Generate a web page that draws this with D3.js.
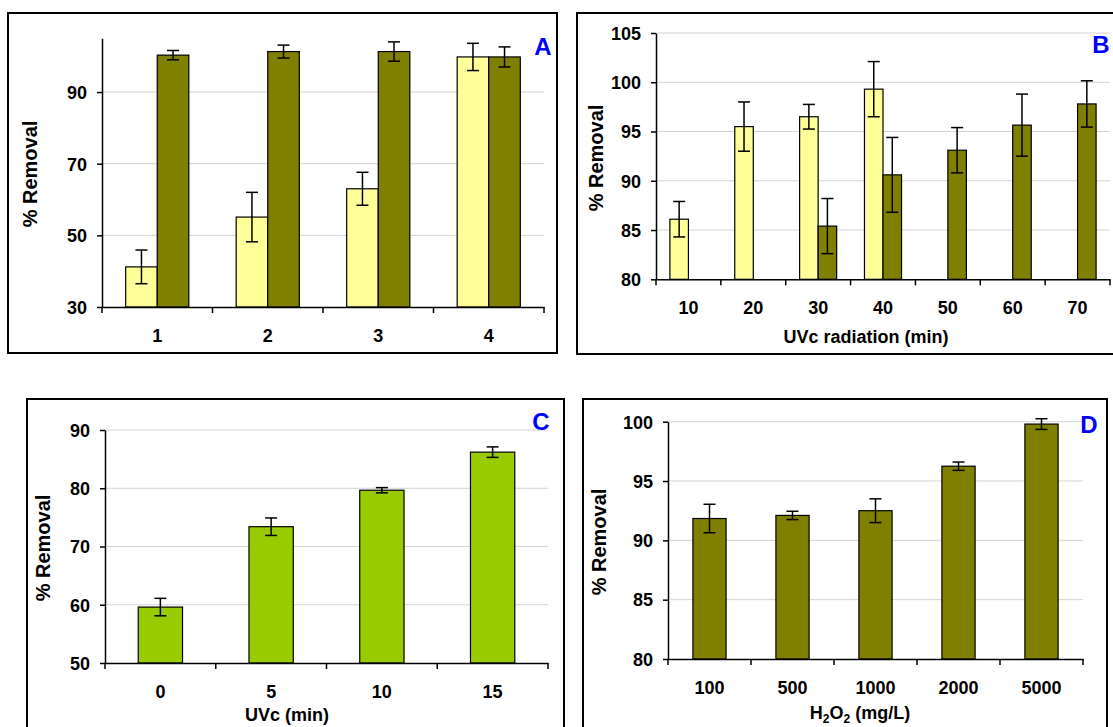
<!DOCTYPE html>
<html>
<head>
<meta charset="utf-8">
<script src="https://cdn.jsdelivr.net/npm/d3@7"></script>
<style>
  body { margin: 0; background: #fff; }
  svg { display: block; font-family: Arial, "Liberation Sans", sans-serif; }
  .tick-label { font-size: 18px; font-weight: bold; fill: #000; }
  .axis-title { font-size: 18px; font-weight: bold; fill: #000; }
  .y-title { font-size: 20px; }
  .panel-label { font-size: 24px; font-weight: bold; fill: #0000ff; }
</style>
</head>
<body>
<svg width="1113" height="727"></svg>
<script>
// Panel A
const aCats = ["1", "2", "3", "4"];
const aYellow = [41.2, 55.1, 63.0, 99.8];
const aYellowErr = [4.7, 6.9, 4.6, 3.8];
const aOlive = [100.3, 101.3, 101.3, 99.8];
const aOliveErr = [1.3, 1.8, 2.7, 2.8];
const aTicks = [30, 50, 70, 90];

// Panel B
const bCats = ["10", "20", "30", "40", "50", "60", "70"];
const bYellow = [86.1, 95.5, 96.5, 99.3, null, null, null];
const bYellowErr = [1.8, 2.5, 1.25, 2.8, null, null, null];
const bOlive = [null, null, 85.4, 90.6, 93.1, 95.65, 97.8];
const bOliveErr = [null, null, 2.8, 3.8, 2.3, 3.15, 2.35];
const bTicks = [80, 85, 90, 95, 100, 105];

// Panel C
const cCats = ["0", "5", "10", "15"];
const cGreen = [59.6, 73.4, 79.66, 86.2];
const cGreenErr = [1.5, 1.5, 0.45, 0.9];
const cTicks = [50, 60, 70, 80, 90];

// Panel D
const dCats = ["100", "500", "1000", "2000", "5000"];
const dOlive = [91.84, 92.1, 92.5, 96.25, 99.8];
const dOliveErr = [1.2, 0.35, 1.0, 0.35, 0.45];
const dTicks = [80, 85, 90, 95, 100];

const yellow = "#ffff99", olive = "#808000", green = "#99cc00";

const svg = d3.select("svg");

function drawPanel(p) {
    const g = svg.append("g");

    // frame around the panel
    g.append("rect")
        .attr("x", p.box[0]).attr("y", p.box[1])
        .attr("width", p.box[2] - p.box[0]).attr("height", p.box[3] - p.box[1])
        .attr("fill", "none").attr("stroke", "#000").attr("stroke-width", 2);

    const x = d3.scaleBand().domain(p.cats).range([p.x0, p.x1]).padding(0);
    const n = p.series.length;
    const bw = x.bandwidth() / (n + 1.5);
    const xs = d3.scaleBand().domain(d3.range(n))
        .range([bw * 0.75, bw * 0.75 + n * bw]).padding(0);
    const y = d3.scaleLinear().domain(p.domain).range([p.yBase, p.yTop]);

    // gridlines
    g.append("g").selectAll("line")
        .data(p.ticks.filter(t => t !== p.domain[0]))
        .join("line")
        .attr("x1", p.x0).attr("x2", p.x1)
        .attr("y1", d => y(d)).attr("y2", d => y(d))
        .attr("stroke", "#d4d4d4").attr("stroke-width", 1);

    // bars and error bars
    p.series.forEach((s, si) => {
        const rows = p.cats.map((c, i) => ({ c, v: s.values[i], e: s.err[i] }))
            .filter(d => d.v != null);
        g.append("g").selectAll("rect")
            .data(rows)
            .join("rect")
            .attr("x", d => x(d.c) + xs(si))
            .attr("y", d => y(d.v))
            .attr("width", xs.bandwidth())
            .attr("height", d => y(p.domain[0]) - y(d.v))
            .attr("fill", s.color)
            .attr("stroke", "#000").attr("stroke-width", 1.2);

        const eb = g.append("g").selectAll("g")
            .data(rows)
            .join("g")
            .attr("stroke", "#000").attr("stroke-width", 1.5);
        const cx = d => x(d.c) + xs(si) + xs.bandwidth() / 2;
        eb.append("line")
            .attr("x1", cx).attr("x2", cx)
            .attr("y1", d => y(d.v - d.e)).attr("y2", d => y(d.v + d.e));
        [1, -1].forEach(sign => {
            eb.append("line")
                .attr("x1", d => cx(d) - 6).attr("x2", d => cx(d) + 6)
                .attr("y1", d => y(d.v + sign * d.e)).attr("y2", d => y(d.v + sign * d.e));
        });
    });

    // y axis
    const yAxis = g.append("g")
        .attr("transform", `translate(${p.x0},0)`)
        .call(d3.axisLeft(y).tickValues(p.ticks).tickSize(5).tickPadding(10).tickSizeOuter(0));
    yAxis.select(".domain").attr("stroke", "#000").attr("stroke-width", 1.5);
    yAxis.selectAll(".tick line").attr("stroke", "#000").attr("stroke-width", 1.5);
    yAxis.selectAll(".tick text").attr("class", "tick-label").attr("dy", "0.35em");

    // x axis: category labels centred, tick marks on category boundaries
    const xAxis = g.append("g")
        .attr("transform", `translate(0,${p.yBase})`)
        .call(d3.axisBottom(x).tickSize(0).tickPadding(22).tickSizeOuter(0));
    xAxis.select(".domain").attr("stroke", "#000").attr("stroke-width", 1.5);
    xAxis.selectAll(".tick text").attr("class", "tick-label");
    g.append("g").selectAll("line")
        .data(p.cats.concat([null]))
        .join("line")
        .attr("x1", (d, i) => p.x0 + i * x.step())
        .attr("x2", (d, i) => p.x0 + i * x.step())
        .attr("y1", p.yBase).attr("y2", p.yBase + 6)
        .attr("stroke", "#000").attr("stroke-width", 1.5);

    // y title
    g.append("text")
        .attr("class", "axis-title y-title")
        .attr("transform", `translate(${p.yTitle[0]},${p.yTitle[1]}) rotate(-90)`)
        .attr("text-anchor", "middle")
        .attr("dy", "0.35em")
        .text("% Removal");

    // x title
    if (p.xTitle) {
        const t = g.append("text")
            .attr("class", "axis-title")
            .attr("x", p.xTitle.pos[0]).attr("y", p.xTitle.pos[1])
            .attr("text-anchor", "middle")
            .attr("font-size", p.xTitle.size || null);
        p.xTitle.parts.forEach(part => {
            const ts = t.append("tspan").text(part.t);
            if (part.sub) ts.attr("font-size", "12px").attr("dy", "4");
            else if (part.after) ts.attr("dy", "-4");
        });
    }

    g.append("text")
        .attr("class", "panel-label")
        .attr("x", p.label[1]).attr("y", p.label[2])
        .attr("text-anchor", "middle")
        .text(p.label[0]);
}

drawPanel({
    box: [8, 13, 557, 353],
    cats: aCats, x0: 102, x1: 544, yBase: 307, yTop: 38.3, domain: [30, 105], ticks: aTicks,
    series: [
        { values: aYellow, err: aYellowErr, color: yellow },
        { values: aOlive, err: aOliveErr, color: olive }
    ],
    yTitle: [30, 174],
    label: ["A", 543, 55]
});

drawPanel({
    box: [577, 13, 1130, 354],
    cats: bCats, x0: 656, x1: 1110, yBase: 279.3, yTop: 33, domain: [80, 105], ticks: bTicks,
    series: [
        { values: bYellow, err: bYellowErr, color: yellow },
        { values: bOlive, err: bOliveErr, color: olive }
    ],
    yTitle: [596, 158],
    xTitle: { pos: [866, 343], size: "19.5px", parts: [{ t: "UVc radiation (min)" }] },
    label: ["B", 1101, 53]
});

drawPanel({
    box: [27, 399, 564, 745],
    cats: cCats, x0: 105, x1: 548, yBase: 663, yTop: 430, domain: [50, 90], ticks: cTicks,
    series: [
        { values: cGreen, err: cGreenErr, color: green }
    ],
    yTitle: [43, 548],
    xTitle: { pos: [287, 721], parts: [{ t: "UVc (min)" }] },
    label: ["C", 541, 430]
});

drawPanel({
    box: [583, 399, 1107, 745],
    cats: dCats, x0: 668, x1: 1083, yBase: 659, yTop: 421.7, domain: [80, 100], ticks: dTicks,
    series: [
        { values: dOlive, err: dOliveErr, color: olive }
    ],
    yTitle: [599, 542],
    xTitle: { pos: [860, 719], parts: [{ t: "H" }, { t: "2", sub: true }, { t: "O", after: true }, { t: "2", sub: true }, { t: " (mg/L)", after: true }] },
    label: ["D", 1089, 433]
});
</script>
</body>
</html>
